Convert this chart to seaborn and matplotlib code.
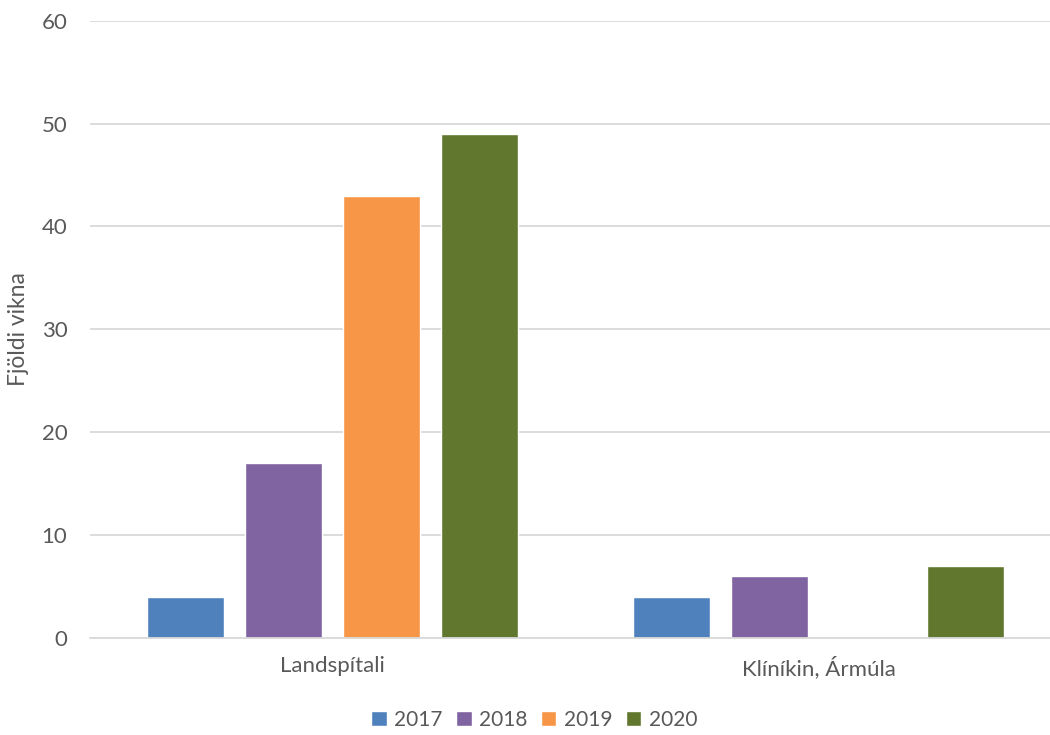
import pandas as pd
import matplotlib
matplotlib.use("Agg")
import matplotlib.pyplot as plt
import seaborn as sns

# data
stadir = ["Landspítali", "Klíníkin, Ármúla"]
ar = ["2017", "2018", "2019", "2020"]
landspitali = [4, 17, 43, 49]
klinikin = [4, 6, 0, 7]
litir = ["#4F81BD", "#8064A2", "#F79646", "#61772E"]

rows = []
for i, a in enumerate(ar):
    rows.append({"stadur": stadir[0], "ar": a, "vikur": landspitali[i]})
    rows.append({"stadur": stadir[1], "ar": a, "vikur": klinikin[i]})
df = pd.DataFrame(rows)

sns.set_style("white")
plt.rcParams["font.family"] = ["Lato", "DejaVu Sans"]
txt = "#595959"

fig = plt.figure(figsize=(10.5, 7.35), dpi=100)
ax = fig.add_axes([89.5 / 1050, 1 - 637.7 / 735, 972 / 1050, 617 / 735])

sns.barplot(data=df, x="stadur", y="vikur", hue="ar", order=stadir, hue_order=ar,
            palette=litir, width=0.8066, gap=0.214, saturation=1, ax=ax)

ax.set_ylim(0, 60)
ax.set_yticks(range(0, 61, 10))
ax.yaxis.grid(True, color="#D9D9D9", lw=1.3)
ax.set_axisbelow(True)
for s in ["top", "right", "left"]:
    ax.spines[s].set_visible(False)
ax.spines["bottom"].set_color("#D9D9D9")
ax.spines["bottom"].set_linewidth(1.3)
ax.tick_params(axis="both", length=0, labelsize=16, colors=txt)
ax.tick_params(axis="y", pad=16)
ax.tick_params(axis="x", pad=13)
ax.set_xlabel("")
ax.set_ylabel("Fjöldi vikna", fontsize=16.5, color=txt)
ax.yaxis.set_label_coords(-0.0625, (637.7 - 329) / 617)

ax.legend(loc="center", bbox_to_anchor=(444.5 / 972, -82 / 617), ncol=4, frameon=False,
          fontsize=15, labelcolor=txt, handlelength=0.75, handleheight=0.75,
          handletextpad=0.35, columnspacing=0.65)

fig.savefig("out.png", dpi=100)
